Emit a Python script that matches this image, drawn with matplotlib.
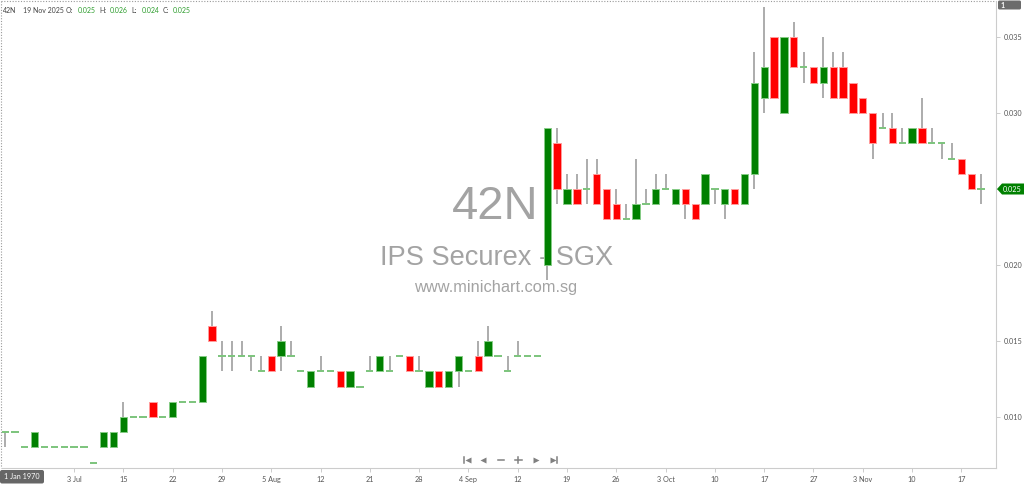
import matplotlib
matplotlib.use("Agg")
import matplotlib.pyplot as plt
from matplotlib.patches import Polygon, FancyBboxPatch

# ---------------- data (SGX 42N daily OHLC) ----------------
opens = [0.009, 0.009, 0.008, 0.008, 0.008, 0.008, 0.008, 0.008, 0.008, 0.007,
         0.008, 0.008, 0.009, 0.010, 0.010, 0.011, 0.010, 0.010, 0.011, 0.011,
         0.011, 0.016, 0.014, 0.014, 0.014, 0.014, 0.013, 0.014, 0.014, 0.014,
         0.013, 0.012, 0.013, 0.013, 0.013, 0.012, 0.012, 0.013, 0.013, 0.013,
         0.014, 0.014, 0.013, 0.012, 0.013, 0.012, 0.013, 0.013, 0.014, 0.014,
         0.014, 0.013, 0.014, 0.014, 0.014, 0.020, 0.028, 0.024, 0.025, 0.025,
         0.026, 0.025, 0.024, 0.023, 0.023, 0.024, 0.024, 0.025, 0.024, 0.025,
         0.024, 0.024, 0.025, 0.024, 0.025, 0.024, 0.026, 0.031, 0.035, 0.030,
         0.035, 0.033, 0.033, 0.032, 0.033, 0.033, 0.032, 0.031, 0.030, 0.029,
         0.029, 0.028, 0.028, 0.029, 0.028, 0.028, 0.027, 0.027, 0.026, 0.025]
highs = [0.009, 0.009, 0.008, 0.009, 0.008, 0.008, 0.008, 0.008, 0.008, 0.007,
         0.009, 0.009, 0.011, 0.010, 0.010, 0.011, 0.010, 0.011, 0.011, 0.011,
         0.014, 0.017, 0.015, 0.015, 0.015, 0.014, 0.014, 0.014, 0.016, 0.015,
         0.013, 0.013, 0.014, 0.013, 0.013, 0.013, 0.012, 0.014, 0.014, 0.014,
         0.014, 0.014, 0.014, 0.013, 0.013, 0.013, 0.014, 0.013, 0.015, 0.016,
         0.014, 0.014, 0.015, 0.014, 0.014, 0.029, 0.029, 0.026, 0.026, 0.027,
         0.027, 0.025, 0.025, 0.024, 0.027, 0.025, 0.026, 0.026, 0.025, 0.025,
         0.024, 0.026, 0.025, 0.025, 0.025, 0.026, 0.034, 0.037, 0.035, 0.035,
         0.036, 0.034, 0.033, 0.035, 0.034, 0.034, 0.032, 0.031, 0.030, 0.030,
         0.030, 0.029, 0.029, 0.031, 0.029, 0.028, 0.028, 0.027, 0.026, 0.026]
lows = [0.008, 0.009, 0.008, 0.008, 0.008, 0.008, 0.008, 0.008, 0.008, 0.007,
        0.008, 0.008, 0.009, 0.010, 0.010, 0.010, 0.010, 0.010, 0.011, 0.011,
        0.011, 0.015, 0.013, 0.013, 0.014, 0.013, 0.013, 0.013, 0.013, 0.014,
        0.013, 0.012, 0.013, 0.013, 0.012, 0.012, 0.012, 0.013, 0.013, 0.013,
        0.014, 0.013, 0.013, 0.012, 0.012, 0.012, 0.012, 0.013, 0.013, 0.014,
        0.014, 0.013, 0.014, 0.014, 0.014, 0.019, 0.024, 0.024, 0.024, 0.024,
        0.024, 0.023, 0.023, 0.023, 0.023, 0.024, 0.024, 0.025, 0.024, 0.023,
        0.023, 0.024, 0.024, 0.023, 0.024, 0.024, 0.025, 0.030, 0.031, 0.030,
        0.033, 0.032, 0.032, 0.031, 0.031, 0.031, 0.030, 0.030, 0.027, 0.029,
        0.028, 0.028, 0.028, 0.028, 0.028, 0.027, 0.027, 0.026, 0.025, 0.024]
closes = [0.009, 0.009, 0.008, 0.009, 0.008, 0.008, 0.008, 0.008, 0.008, 0.007,
          0.009, 0.009, 0.010, 0.010, 0.010, 0.010, 0.010, 0.011, 0.011, 0.011,
          0.014, 0.015, 0.014, 0.014, 0.014, 0.014, 0.013, 0.013, 0.015, 0.014,
          0.013, 0.013, 0.013, 0.013, 0.012, 0.013, 0.012, 0.013, 0.014, 0.013,
          0.014, 0.013, 0.013, 0.013, 0.012, 0.013, 0.014, 0.013, 0.013, 0.015,
          0.014, 0.013, 0.014, 0.014, 0.014, 0.029, 0.025, 0.025, 0.024, 0.025,
          0.024, 0.023, 0.023, 0.023, 0.024, 0.024, 0.025, 0.025, 0.025, 0.024,
          0.023, 0.026, 0.025, 0.025, 0.024, 0.026, 0.032, 0.033, 0.031, 0.035,
          0.033, 0.033, 0.032, 0.033, 0.031, 0.031, 0.030, 0.030, 0.028, 0.029,
          0.028, 0.028, 0.029, 0.028, 0.028, 0.028, 0.027, 0.026, 0.025, 0.025]

date_tick_index = [7, 12, 17, 22, 27, 32, 37, 42, 47, 52, 57, 62, 67, 72, 77, 82, 87, 92, 97]
date_tick_labels = ["3 Jul", "15", "22", "29", "5 Aug", "12", "21", "28", "4 Sep", "12",
                    "19", "26", "3 Oct", "10", "17", "27", "3 Nov", "10", "17"]
price_ticks = [0.010, 0.015, 0.020, 0.025, 0.030, 0.035]

ticker = "42N"
company = "IPS Securex - SGX"
site = "www.minichart.com.sg"
last_date = "19 Nov 2025"

# ---------------- figure ----------------
W, H = 1024, 484
fig = plt.figure(figsize=(W / 100, H / 100), dpi=100)
fig.patch.set_facecolor("white")


def fx(x):
    return x / W


def fy(y):
    return 1 - y / H


TICK_FONT = "Lato"
WM_FONT = "Liberation Sans"

ax_left, ax_right, ax_top, ax_bot = 2, 996, 2, 468
ax = fig.add_axes([fx(ax_left), fy(ax_bot), (ax_right - ax_left) / W, (ax_bot - ax_top) / H])
ax.set_facecolor("none")

# watermark (behind candles)
wm_col = "#a3a3a3"
ax.text(fx(495.5), fy(219), ticker, transform=fig.transFigure, ha="center", va="baseline",
        fontsize=34, family=WM_FONT, color=wm_col, zorder=0.5)
ax.text(fx(496.5), fy(265), company, transform=fig.transFigure, ha="center", va="baseline",
        fontsize=19.6, family=WM_FONT, color=wm_col, zorder=0.5)
ax.text(fx(496), fy(292), site, transform=fig.transFigure, ha="center", va="baseline",
        fontsize=11.8, family=WM_FONT, color=wm_col, zorder=0.5)

# candles
up_col, up_edge = "#008000", "#86cc86"
dn_col, dn_edge = "#ff0000", "#ff9c9c"
doji_col = "#7cc47c"
wick_col = "#a6a6a6"
bw = 0.74
for i, (o, h, l, c) in enumerate(zip(opens, highs, lows, closes)):
    if h > l:
        ax.vlines(i, l, h, color=wick_col, lw=1.3, zorder=2)
    if c > o:
        ax.bar(i, c - o, bottom=o, width=bw, color=up_col, edgecolor=up_edge, lw=0.7, zorder=3)
    elif c < o:
        ax.bar(i, o - c, bottom=c, width=bw, color=dn_col, edgecolor=dn_edge, lw=0.7, zorder=3)
    else:
        ax.hlines(o, i - bw / 2, i + bw / 2, color=doji_col, lw=1.4, zorder=3)

ax.set_xlim(-0.304, 100.51)
ax.set_ylim(0.006645, 0.0373)

for s in ax.spines.values():
    s.set_visible(False)
for side in ("right", "bottom"):
    ax.spines[side].set_visible(True)
    ax.spines[side].set_color("#cccccc")
    ax.spines[side].set_linewidth(0.8)

ax.yaxis.tick_right()
ax.set_yticks(price_ticks)
ax.set_yticklabels([f"{p:.3f}" for p in price_ticks])
ax.set_xticks(date_tick_index)
ax.set_xticklabels(date_tick_labels)
ax.tick_params(axis="both", length=3, width=0.7, color="#cccccc", labelsize=5.2,
               labelcolor="#555555", pad=2.5)
for lab in ax.get_xticklabels() + ax.get_yticklabels():
    lab.set_family(TICK_FONT)

# ---------------- overlay in pixel coordinates ----------------
ov = fig.add_axes([0, 0, 1, 1])
ov.set_xlim(0, W)
ov.set_ylim(H, 0)
ov.axis("off")
ov.set_facecolor("none")

# dotted borders top & left
ov.plot([1, 996], [1, 1], ls=(0, (1, 1.5)), color="#9a9a9a", lw=0.8)
ov.plot([1, 1], [1, 468], ls=(0, (1, 1.5)), color="#9a9a9a", lw=0.8)

# header
hdr = [(3, ticker, "#444444"), (23, last_date, "#444444"),
       (66, "O:", "#444444"), (78, f"{opens[-1]:.3f}", "#2e9e2e"),
       (99, "H:", "#444444"), (110, f"{highs[-1]:.3f}", "#2e9e2e"),
       (131, "L:", "#444444"), (142, f"{lows[-1]:.3f}", "#2e9e2e"),
       (163, "C:", "#444444"), (173, f"{closes[-1]:.3f}", "#2e9e2e")]
for x, s, col in hdr:
    ov.text(x, 10.5, s, ha="left", va="center", fontsize=5.0, family=TICK_FONT, color=col)

# top-right "1" box
ov.add_patch(FancyBboxPatch((998, 0.5), 23, 9, boxstyle="round,pad=0,rounding_size=1.5",
                            fc="#6b6b6b", ec="none"))
ov.text(1000.5, 5.2, "1", ha="left", va="center", fontsize=5, family=TICK_FONT, color="white",
        weight="bold")

# last price tag
yl = 189
ov.add_patch(Polygon([[997, yl], [1002, yl - 5.5], [1024, yl - 5.5], [1024, yl + 5.5],
                      [1002, yl + 5.5]], closed=True, fc="#008000", ec="none"))
ov.text(1003, yl, f"{closes[-1]:.3f}", ha="left", va="center", fontsize=5.2, family=TICK_FONT,
        color="white")

# bottom-left date box
ov.add_patch(FancyBboxPatch((0, 470), 44, 13.5, boxstyle="round,pad=0,rounding_size=2",
                            fc="#666666", ec="none"))
ov.text(22, 476.8, "1 Jan 1970", ha="center", va="center", fontsize=5.2, family=TICK_FONT,
        color="white")

# navigation icons
nc = "#808080"
ny = 459.7
ov.plot([464.2, 464.2], [ny - 3, ny + 3], color=nc, lw=1.1)
ov.plot([467.8], [ny], marker="<", ms=4.5, color=nc, mec="none")
ov.plot([483.3], [ny], marker="<", ms=4.5, color=nc, mec="none")
ov.plot([497.8, 504.2], [ny, ny], color=nc, lw=1.1)
ov.plot([515.1, 521.5], [ny, ny], color=nc, lw=1.1)
ov.plot([518.3, 518.3], [ny - 3.2, ny + 3.2], color=nc, lw=1.1)
ov.plot([536], [ny], marker=">", ms=4.5, color=nc, mec="none")
ov.plot([553], [ny], marker=">", ms=4.5, color=nc, mec="none")
ov.plot([556.6, 556.6], [ny - 3, ny + 3], color=nc, lw=1.1)

fig.savefig("out.png", dpi=100, facecolor="white")
